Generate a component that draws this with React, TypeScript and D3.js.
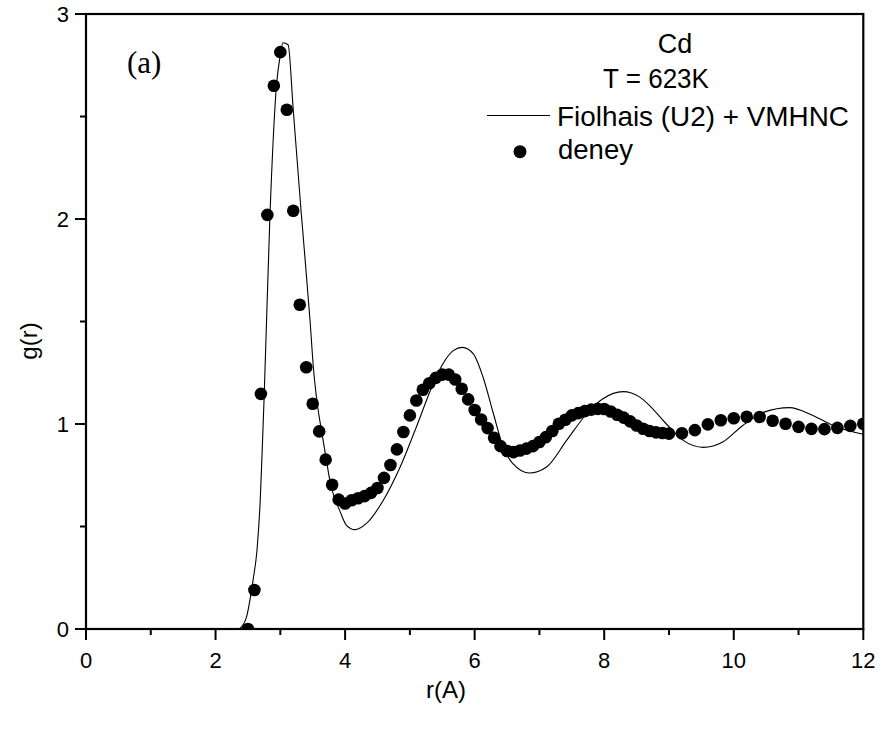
import React from "react";
import * as d3 from "d3";

// Experimental points ("deney")
const expR = [
  2.5, 2.6, 2.7, 2.8, 2.9, 3.0, 3.1, 3.2, 3.3, 3.4, 3.5, 3.6, 3.7, 3.8, 3.9,
  4.0, 4.1, 4.2, 4.3, 4.4, 4.5, 4.6, 4.7, 4.8, 4.9,
  5.0, 5.1, 5.2, 5.3, 5.4, 5.5, 5.6, 5.7, 5.8, 5.9,
  6.0, 6.1, 6.2, 6.3, 6.4, 6.5, 6.6, 6.7, 6.8, 6.9,
  7.0, 7.1, 7.2, 7.3, 7.4, 7.5, 7.6, 7.7, 7.8, 7.9,
  8.0, 8.1, 8.2, 8.3, 8.4, 8.5, 8.6, 8.7, 8.8, 8.9,
  9.0, 9.2, 9.4, 9.6, 9.8, 10.0, 10.2, 10.4, 10.6, 10.8,
  11.0, 11.2, 11.4, 11.6, 11.8, 12.0,
];
const expG = [
  0.0, 0.19, 1.147, 2.02, 2.65, 2.814, 2.533, 2.04, 1.582, 1.277, 1.099, 0.964, 0.826, 0.704, 0.631,
  0.612, 0.628, 0.638, 0.648, 0.664, 0.688, 0.737, 0.8, 0.876, 0.961,
  1.042, 1.115, 1.167, 1.199, 1.225, 1.241, 1.241, 1.217, 1.172, 1.12,
  1.068, 1.022, 0.98, 0.933, 0.892, 0.868, 0.863, 0.871, 0.88, 0.892,
  0.912, 0.936, 0.966, 1.001, 1.021, 1.042, 1.053, 1.063, 1.07, 1.074,
  1.073, 1.061, 1.045, 1.031, 1.013, 0.993, 0.977, 0.966, 0.959, 0.956,
  0.953, 0.955, 0.97, 0.998, 1.018, 1.028, 1.035, 1.034, 1.016, 1.001,
  0.986, 0.976, 0.975, 0.981, 0.991, 1.001,
];

// Theory curve: Fiolhais (U2) + VMHNC
const thR = [
  0, 2.3, 2.35, 2.4, 2.48, 2.53, 2.58, 2.64, 2.69, 2.72, 2.75, 2.84, 2.94, 3.0, 3.04,
  3.12, 3.2, 3.32, 3.46, 3.51, 3.57, 3.64, 3.71, 3.78, 3.85, 3.92, 4.02, 4.15, 4.33,
  4.59, 4.85, 5.1, 5.36, 5.51, 5.67, 5.81, 5.98, 6.13, 6.29, 6.44, 6.59, 6.85, 7.11,
  7.42, 7.73, 7.98, 8.29, 8.55, 8.7, 8.96, 9.22, 9.53, 9.83, 10.14, 10.47, 10.86,
  11.22, 11.53, 12.0,
];
const thG = [
  0, 0, 0.0, 0.01, 0.06, 0.14, 0.24, 0.385, 0.63, 0.87, 1.13, 2.02, 2.65, 2.8, 2.86,
  2.85, 2.53, 2.04, 1.5, 1.277, 1.1, 0.96, 0.826, 0.7, 0.63, 0.575, 0.506, 0.485, 0.515,
  0.628, 0.79, 0.985, 1.196, 1.294, 1.358, 1.374, 1.342, 1.228, 1.05, 0.888, 0.807, 0.761, 0.79,
  0.92, 1.05, 1.123, 1.158, 1.131, 1.09, 1.0, 0.92, 0.886, 0.912, 0.993, 1.058, 1.08,
  1.042, 0.993, 0.95,
];

const xMajor = [0, 2, 4, 6, 8, 10, 12];
const xMinor = [1, 3, 5, 7, 9, 11];
const yMajor = [0, 1, 2, 3];
const yMinor = [0.5, 1.5, 2.5];

const legendTitle = "Cd";
const legendTemp = "T = 623K";
const seriesLine = "Fiolhais (U2) + VMHNC";
const seriesDots = "deney";
const panelLabel = "(a)";
const xTitle = "r(A)";
const yTitle = "g(r)";

export default function App() {
  const W = 885, H = 731;
  const left = 86, right = 863.3, top = 14, bottom = 629;
  const x = d3.scaleLinear().domain([0, 12]).range([left, right]);
  const y = d3.scaleLinear().domain([0, 3]).range([bottom, top]);
  const line = d3
    .line<number>()
    .x((_, i) => x(thR[i]))
    .y((d) => y(d))
    .curve(d3.curveMonotoneX);
  const font = "'Liberation Sans', Arial, sans-serif";
  return (
    <svg
      width={W}
      height={H}
      style={{ position: "absolute", left: 0, top: 0, background: "#fff" }}
    >
      <defs>
        <clipPath id="plot">
          <rect x={left} y={top} width={right - left} height={bottom - top} />
        </clipPath>
      </defs>
      <rect x={0} y={0} width={W} height={H} fill="#fff" />
      <g clipPath="url(#plot)">
        <path d={line(thG) || ""} fill="none" stroke="#000" strokeWidth={1.1} />
        {expR.map((r, i) => (
          <circle key={i} cx={x(r)} cy={y(expG[i])} r={6.3} fill="#000" />
        ))}
      </g>
      {/* frame */}
      <rect
        x={left}
        y={top}
        width={right - left}
        height={bottom - top}
        fill="none"
        stroke="#000"
        strokeWidth={2.2}
      />
      {/* x ticks */}
      {xMajor.map((v) => (
        <g key={"xm" + v}>
          <line x1={x(v)} x2={x(v)} y1={bottom} y2={bottom + 11} stroke="#000" strokeWidth={2} />
          <text x={x(v)} y={668} textAnchor="middle" fontFamily={font} fontSize={22}>
            {v}
          </text>
        </g>
      ))}
      {xMinor.map((v) => (
        <line key={"xn" + v} x1={x(v)} x2={x(v)} y1={bottom} y2={bottom + 6} stroke="#000" strokeWidth={2} />
      ))}
      {/* y ticks */}
      {yMajor.map((v) => (
        <g key={"ym" + v}>
          <line x1={left - 11} x2={left} y1={y(v)} y2={y(v)} stroke="#000" strokeWidth={2} />
          <text x={69} y={y(v) + 8} textAnchor="end" fontFamily={font} fontSize={22}>
            {v}
          </text>
        </g>
      ))}
      {yMinor.map((v) => (
        <line key={"yn" + v} x1={left - 6} x2={left} y1={y(v)} y2={y(v)} stroke="#000" strokeWidth={2} />
      ))}
      {/* axis titles */}
      <text x={446} y={698} textAnchor="middle" fontFamily={font} fontSize={24}>
        {xTitle}
      </text>
      <text
        transform={`translate(37,341) rotate(-90)`}
        textAnchor="middle"
        fontFamily={font}
        fontSize={24}
      >
        {yTitle}
      </text>
      {/* panel label */}
      <text x={127} y={73} fontFamily="'Liberation Serif', 'Times New Roman', serif" fontSize={31}>
        {panelLabel}
      </text>
      {/* legend */}
      <text x={675} y={53} textAnchor="middle" fontFamily={font} fontSize={27}>
        {legendTitle}
      </text>
      <text x={656} y={88} textAnchor="middle" fontFamily={font} fontSize={27} textLength={106} lengthAdjust="spacingAndGlyphs">
        {legendTemp}
      </text>
      <line x1={487} x2={550} y1={115.5} y2={115.5} stroke="#000" strokeWidth={1.1} />
      <text x={557} y={126} fontFamily={font} fontSize={27.5} textLength={292} lengthAdjust="spacingAndGlyphs">
        {seriesLine}
      </text>
      <circle cx={520} cy={151.7} r={6.5} fill="#000" />
      <text x={558} y={159} fontFamily={font} fontSize={27.5}>
        {seriesDots}
      </text>
    </svg>
  );
}
